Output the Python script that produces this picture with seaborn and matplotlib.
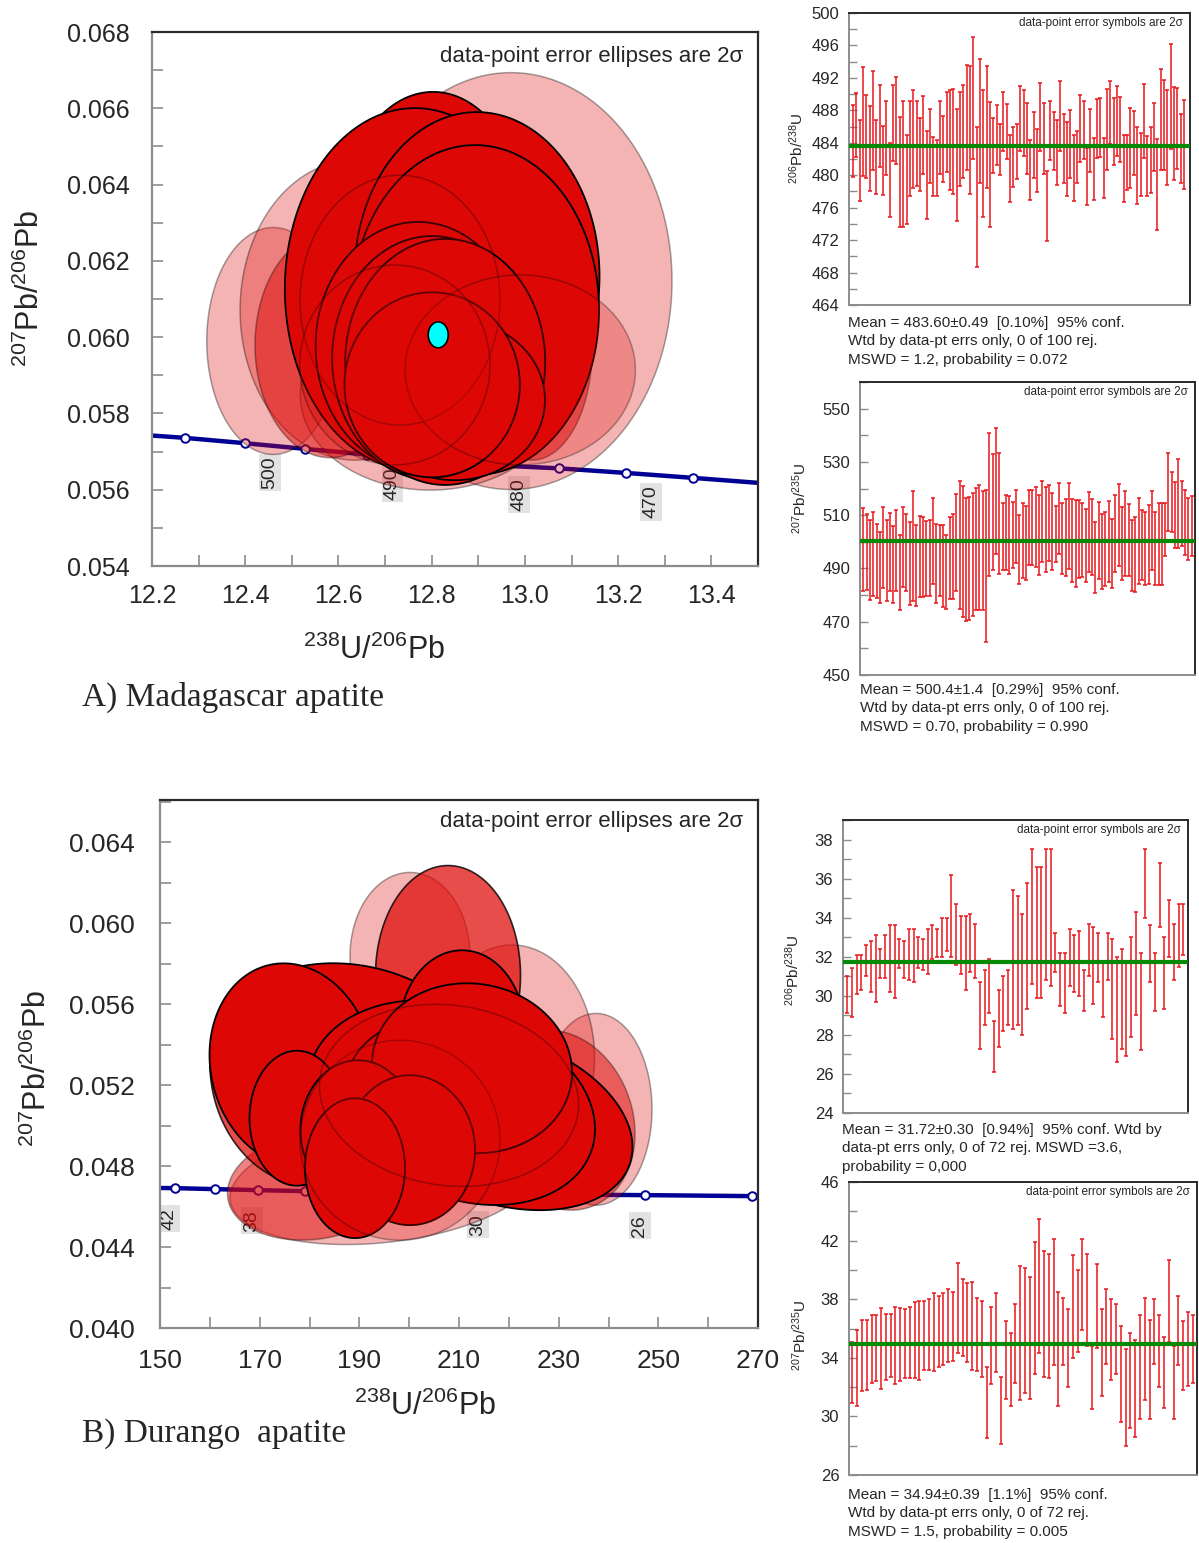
import numpy as np
import matplotlib
matplotlib.use("Agg")
import matplotlib.pyplot as plt
from matplotlib.ticker import MultipleLocator, FixedLocator, FormatStrFormatter
import seaborn as sns
import pandas as pd

# ---------------- DATA ----------------
# Panel A : Madagascar apatite, Tera-Wasserburg ellipses (centre x, centre y, full width, full height, rho, kind)
A_cx = [12.970, 12.460, 12.636, 12.797, 12.582, 13.015,
        12.803, 12.764, 12.897, 12.893, 12.771, 12.801, 12.829, 12.850, 12.801,
        12.732, 12.990, 12.721]
A_cy = [0.06147, 0.05990, 0.06071, 0.05848, 0.05979, 0.05966,
        0.06268, 0.06126, 0.06160, 0.06071, 0.05977, 0.05945, 0.05935, 0.05835, 0.05875,
        0.06097, 0.05914, 0.05927]
A_w = [0.691, 0.285, 0.494, 0.558, 0.322, 0.258,
       0.408, 0.558, 0.526, 0.532, 0.440, 0.429, 0.429, 0.386, 0.376,
       0.429, 0.494, 0.408]
A_h = [0.01093, 0.00595, 0.00787, 0.00498, 0.00590, 0.00577,
       0.00750, 0.00949, 0.00860, 0.00865, 0.00650, 0.00640, 0.00645, 0.00420, 0.00485,
       0.00655, 0.00498, 0.00524]
A_rho = [0.0] * 18
A_kind = ["pale", "pale", "pale", "pale", "mid", "mid",
          "solid", "solid", "solid", "solid", "solid", "solid", "solid", "solid", "solid",
          "overlay", "overlay", "overlay"]
A_mean_pt = (12.814, 0.06006, 0.043, 0.00068)

A_conc_age = [505, 500, 495, 490, 485, 480, 475, 470, 465]
A_conc_x = [12.270, 12.399, 12.529, 12.662, 12.797, 12.934, 13.074, 13.217, 13.361]
A_conc_y = [0.05736, 0.05722, 0.05707, 0.05692, 0.05677, 0.05664, 0.05656, 0.05644, 0.05631]
A_line_x = [12.2] + A_conc_x + [13.5]
A_line_y = [0.05742] + A_conc_y + [0.05618]
A_label_ages = [500, 490, 480, 470]
A_xticks = [12.2, 12.4, 12.6, 12.8, 13.0, 13.2, 13.4]
A_yticks = [0.054, 0.056, 0.058, 0.060, 0.062, 0.064, 0.066, 0.068]

# Panel B : Durango apatite
B_cx = [200.17, 237.49, 220.64, 195.15, 181.10, 230.27,
        207.79, 178.09,
        189.13, 176.49, 210.60, 206.19, 218.23, 212.21, 212.61, 177.49, 189.73, 200.17, 189.13,
        198.16, 208.00]
B_cy = [0.05837, 0.05081, 0.05338, 0.04721, 0.04706, 0.05027,
        0.05743, 0.05249,
        0.05240, 0.05299, 0.05472, 0.05126, 0.05027, 0.05077, 0.05284, 0.05037, 0.04978, 0.04879, 0.04790,
        0.04928, 0.05150]
B_w = [24.08, 22.48, 33.11, 62.21, 35.12, 30.10,
       29.10, 36.12,
       58.19, 33.11, 25.08, 53.18, 53.18, 50.17, 40.13, 19.06, 23.08, 26.09, 20.07,
       40.13, 52.00]
B_h = [0.00830, 0.00948, 0.01111, 0.00617, 0.00543, 0.00889,
       0.01086, 0.01086,
       0.01126, 0.01007, 0.00790, 0.00988, 0.00889, 0.00938, 0.00840, 0.00667, 0.00691, 0.00741, 0.00691,
       0.00988, 0.00900]
B_rho = [0.0, 0.0, 0.0, 0.25, 0.15, -0.15,
         0.0, -0.1,
         -0.15, -0.1, 0.0, -0.15, -0.3, -0.2, -0.05, 0.0, 0.0, 0.0, 0.0,
         0.0, -0.1]
B_kind = ["pale", "pale", "pale", "pale", "mid", "mid",
          "deep", "deep",
          "solid", "solid", "solid", "solid", "solid", "solid", "solid", "solid", "solid", "solid", "solid",
          "overlay", "overlay"]

B_conc_age = [42, 40, 38, 36, 34, 32, 30, 28, 26, 24]
B_conc_x = [153.0, 161.1, 169.6, 179.1, 189.6, 201.5, 214.9, 230.3, 247.4, 268.7]
B_conc_y = [0.046914, 0.046864, 0.046815, 0.046765, 0.046716, 0.046667, 0.046617, 0.046593, 0.046568, 0.046519]
B_line_x = [150.0] + B_conc_x + [270.0]
B_line_y = [0.04692] + B_conc_y + [0.04652]
B_label_ages = [42, 38, 34, 30, 26]
B_xticks = [150, 170, 190, 210, 230, 250, 270]
B_yticks = [0.040, 0.044, 0.048, 0.052, 0.056, 0.060, 0.064]

# Weighted-mean panels: upper / lower ends of 2-sigma error bars
A1_hi = [488.7, 490.1, 486.8, 493.3, 489.9, 488.5, 492.8, 486.8, 491.1, 486.1,
         489.2, 484.0, 491.1, 492.1, 487.2, 489.2, 485.0, 489.2, 490.5, 489.2,
         487.0, 489.8, 485.4, 488.2, 484.7, 484.3, 489.1, 487.3, 490.2, 490.5,
         490.6, 488.2, 490.2, 491.1, 493.6, 493.5, 497.1, 486.0, 494.3, 490.5,
         493.5, 489.0, 487.1, 488.7, 486.3, 490.2, 488.8, 485.0, 485.9, 486.3,
         491.0, 490.5, 488.9, 484.3, 487.8, 485.7, 491.4, 488.9, 480.5, 489.2,
         487.8, 486.8, 491.6, 487.6, 486.6, 488.0, 485.0, 485.4, 489.9, 489.2,
         483.4, 488.2, 484.6, 489.4, 489.5, 484.6, 490.6, 491.6, 489.5, 491.0,
         489.7, 485.0, 485.0, 488.3, 487.9, 486.0, 485.2, 491.2, 484.8, 486.0,
         488.9, 484.5, 493.1, 491.8, 490.5, 496.2, 490.9, 490.7, 487.5, 489.3]
A1_lo = [479.8, 482.2, 476.8, 479.9, 479.7, 478.0, 480.7, 477.7, 481.0, 477.6,
         480.0, 474.8, 481.8, 481.4, 473.6, 473.6, 474.0, 477.4, 478.4, 478.7,
         478.0, 480.2, 474.6, 479.0, 477.4, 477.4, 480.1, 479.2, 480.4, 478.2,
         477.7, 474.4, 478.7, 479.6, 480.6, 477.7, 482.0, 468.7, 479.0, 474.8,
         478.4, 473.6, 480.3, 481.2, 480.0, 483.0, 482.0, 476.7, 478.5, 479.5,
         483.0, 482.4, 480.1, 477.0, 479.7, 477.9, 483.0, 480.2, 471.9, 481.9,
         480.6, 478.8, 483.0, 479.1, 477.4, 479.6, 476.8, 479.0, 481.6, 482.0,
         476.3, 480.4, 477.0, 482.1, 482.3, 477.2, 480.7, 483.8, 481.2, 482.4,
         481.6, 476.7, 478.2, 478.4, 480.0, 476.5, 477.4, 482.1, 477.5, 477.8,
         480.5, 473.2, 480.7, 480.6, 478.8, 483.2, 479.4, 480.8, 479.0, 478.3]
A1_mean = 483.60
A1_yticks = [464, 468, 472, 476, 480, 484, 488, 492, 496, 500]

A2_hi = [512.7, 510.4, 508.1, 511.2, 506.8, 503.6, 513.2, 508.2, 510.9, 505.9,
         511.9, 502.4, 513.2, 510.4, 507.3, 519.0, 506.3, 509.6, 509.2, 507.9,
         508.2, 516.5, 506.7, 506.5, 506.2, 502.7, 509.3, 510.6, 517.8, 522.8,
         521.1, 516.5, 516.9, 518.4, 520.3, 521.5, 519.0, 519.6, 540.7, 532.8,
         542.8, 533.4, 514.6, 517.4, 517.1, 515.1, 519.6, 510.2, 514.4, 513.6,
         519.6, 519.6, 520.6, 517.4, 522.8, 520.6, 521.5, 518.4, 513.4, 521.9,
         514.6, 516.1, 521.9, 516.2, 515.8, 515.8, 514.4, 512.4, 518.6, 516.1,
         507.3, 514.9, 510.5, 511.1, 515.2, 508.6, 517.4, 521.8, 513.1, 519.0,
         514.2, 508.3, 509.3, 516.5, 511.9, 511.1, 514.0, 519.0, 511.1, 514.4,
         514.4, 514.4, 533.2, 526.2, 522.4, 531.2, 522.8, 519.4, 516.5, 517.1]
A2_lo = [481.7, 482.0, 478.2, 479.7, 478.9, 477.2, 482.6, 477.8, 481.7, 477.2,
         481.4, 474.5, 483.2, 481.7, 476.3, 477.8, 476.0, 479.2, 479.2, 479.7,
         479.7, 484.3, 477.0, 479.7, 475.7, 474.7, 478.5, 478.5, 481.4, 474.7,
         471.6, 470.1, 470.7, 472.0, 474.5, 474.5, 474.5, 462.5, 487.3, 489.5,
         495.5, 488.0, 489.3, 489.3, 488.0, 490.2, 492.0, 484.3, 486.4, 485.8,
         491.4, 491.4, 490.5, 487.6, 492.3, 488.5, 492.7, 489.3, 492.3, 495.5,
         488.0, 487.3, 489.8, 484.8, 483.0, 486.6, 486.8, 484.8, 488.5, 487.6,
         480.7, 486.0, 482.2, 483.5, 484.9, 482.6, 488.5, 490.8, 485.5, 487.3,
         487.0, 481.4, 481.0, 484.3, 485.8, 483.9, 484.3, 489.3, 483.9, 483.9,
         483.9, 494.8, 504.0, 503.6, 497.7, 497.7, 498.3, 495.2, 493.3, 494.5]
A2_mean = 500.4
A2_yticks = [450, 470, 490, 510, 530, 550]

B1_hi = [31.0, 31.4, 32.1, 32.1, 32.6, 32.8, 33.1, 32.4, 33.1, 33.6,
         33.6, 32.9, 32.8, 33.4, 33.4, 33.0, 32.9, 33.4, 33.6, 33.4,
         34.0, 34.0, 36.2, 34.7, 34.1, 34.1, 34.2, 33.7, 30.7, 31.3,
         31.9, 28.7, 30.3, 31.0, 31.3, 35.4, 35.1, 34.2, 35.8, 37.5,
         36.6, 36.6, 37.5, 37.5, 33.2, 32.2, 32.2, 33.4, 33.1, 33.3,
         31.3, 33.7, 33.5, 33.2, 31.7, 33.2, 32.9, 32.0, 32.4, 31.8,
         33.0, 34.3, 32.2, 37.5, 33.6, 32.2, 36.8, 33.0, 34.9, 33.7,
         34.7, 34.7]
B1_lo = [29.1, 28.9, 30.1, 30.3, 31.0, 30.2, 29.7, 30.9, 30.9, 30.2,
         29.9, 31.4, 30.9, 30.8, 30.7, 31.4, 31.3, 31.1, 31.9, 32.0,
         32.0, 32.3, 32.0, 31.6, 31.1, 30.3, 31.2, 30.9, 27.3, 28.5,
         29.1, 26.1, 27.4, 28.2, 28.5, 28.3, 28.5, 28.0, 29.3, 30.6,
         29.9, 29.9, 30.8, 30.5, 31.2, 29.5, 29.1, 30.5, 30.2, 30.0,
         29.2, 31.0, 29.6, 30.7, 28.9, 30.8, 27.8, 26.6, 27.3, 26.9,
         27.9, 29.0, 27.2, 34.0, 30.7, 29.2, 33.5, 29.3, 32.0, 30.8,
         31.5, 32.1]
B1_mean = 31.72
B1_yticks = [24, 26, 28, 30, 32, 34, 36, 38]

B2_hi = [35.1, 35.9, 36.6, 36.6, 36.9, 36.9, 37.4, 37.0, 37.0, 37.5,
         37.4, 37.3, 37.5, 37.8, 37.9, 37.9, 38.0, 38.4, 38.2, 38.4,
         38.7, 38.5, 40.5, 39.4, 39.1, 39.2, 38.1, 37.9, 33.4, 37.5,
         38.4, 32.7, 36.5, 35.7, 37.7, 40.3, 40.1, 39.5, 41.9, 43.5,
         41.3, 41.1, 42.1, 38.5, 38.1, 37.3, 41.0, 40.0, 42.1, 41.1,
         34.8, 40.4, 37.3, 38.7, 38.0, 37.7, 36.2, 34.6, 35.7, 35.2,
         36.9, 38.1, 36.6, 38.0, 36.9, 35.4, 40.7, 34.8, 38.2, 36.5,
         37.1, 36.9]
B2_lo = [30.9, 30.7, 31.7, 31.8, 32.3, 32.4, 31.9, 32.5, 32.7, 32.2,
         32.4, 32.6, 32.6, 32.6, 32.5, 33.2, 33.2, 33.1, 33.4, 33.5,
         33.7, 33.8, 34.3, 34.1, 33.7, 33.2, 33.1, 32.7, 28.5, 32.2,
         33.0, 28.1, 31.2, 30.7, 32.3, 31.1, 31.6, 31.2, 32.9, 34.3,
         32.7, 32.6, 33.5, 30.7, 33.5, 32.0, 34.0, 34.4, 35.9, 34.8,
         30.5, 34.7, 31.4, 33.6, 32.5, 32.9, 29.6, 28.0, 29.2, 28.6,
         29.8, 31.1, 29.8, 33.6, 32.0, 30.6, 35.1, 29.8, 33.5, 31.8,
         32.1, 32.3]
B2_mean = 34.94
B2_yticks = [26, 30, 34, 38, 42, 46]

# ---------------- STYLE ----------------
sns.set_theme(style="ticks")
plt.rcParams["font.family"] = ["Liberation Sans", "DejaVu Sans"]
plt.rcParams["mathtext.fontset"] = "custom"
plt.rcParams["mathtext.rm"] = "Liberation Sans"
plt.rcParams["mathtext.default"] = "regular"

W, H = 1199, 1543
fig = plt.figure(figsize=(W / 100, H / 100), dpi=100)
fig.patch.set_facecolor("white")

RED = "#DD0806"
NAVY = "#000094"
ERR = "#E8161C"
GRAY = "#8C8C8C"


def add_ax(l, t, r, b):
    return fig.add_axes([l / W, 1 - b / H, (r - l) / W, (b - t) / H])


def ftext(px, py, s, **kw):
    fig.text(px / W, 1 - py / H, s, **kw)


def style_spines(ax, lw=1.4):
    for side in ("left", "bottom"):
        ax.spines[side].set_color(GRAY)
        ax.spines[side].set_linewidth(lw)
    for side in ("top", "right"):
        ax.spines[side].set_color("#2a2a2a")
        ax.spines[side].set_linewidth(lw)
        ax.spines[side].set_visible(True)


def ellipse(ax, cx, cy, w, h, rho, kind):
    t = np.linspace(0, 2 * np.pi, 200)
    x = cx + w / 2 * np.cos(t)
    y = cy + h / 2 * (rho * np.cos(t) + np.sqrt(1 - rho ** 2) * np.sin(t))
    r, g, b = matplotlib.colors.to_rgb(RED)
    if kind == "pale":
        ax.fill(x, y, facecolor=(r, g, b, 0.30), edgecolor=(0, 0, 0, 0.35), lw=1.1, zorder=3)
    elif kind == "mid":
        ax.fill(x, y, facecolor=(r, g, b, 0.50), edgecolor=(0, 0, 0, 0.35), lw=1.1, zorder=3)
    elif kind == "deep":
        ax.fill(x, y, facecolor=(r, g, b, 0.72), edgecolor=(0, 0, 0, 0.8), lw=1.2, zorder=4)
    elif kind == "solid":
        ax.fill(x, y, facecolor=RED, edgecolor="black", lw=1.3, zorder=5)
    else:
        ax.fill(x, y, facecolor=(r, g, b, 0.25), edgecolor=(0, 0, 0, 0.30), lw=1.1, zorder=6)


def concordia(ax, lx, ly, mx, my, ages, label_ages, offset):
    sns.lineplot(x=lx, y=ly, ax=ax, color=NAVY, lw=3.2, sort=False, zorder=1)
    sns.scatterplot(x=mx, y=my, ax=ax, s=38, color="white", edgecolor=NAVY, linewidth=1.4, zorder=2)
    for a, x, y in zip(ages, mx, my):
        if a in label_ages:
            ax.annotate(str(a), (x, y), xytext=offset, textcoords="offset points",
                        rotation=90, ha="center", va="center", fontsize=14, zorder=2,
                        bbox=dict(boxstyle="square,pad=0.12", fc="#E2E2E2", ec="none"))


def main_axes_style(ax, xticks, yticks, xminor, yminor, xfmt, labelsize, ypad, xpad):
    ax.xaxis.set_major_locator(FixedLocator(xticks))
    ax.yaxis.set_major_locator(FixedLocator(yticks))
    ax.xaxis.set_minor_locator(MultipleLocator(xminor))
    ax.yaxis.set_minor_locator(MultipleLocator(yminor))
    ax.xaxis.set_major_formatter(FormatStrFormatter(xfmt))
    ax.yaxis.set_major_formatter(FormatStrFormatter("%.3f"))
    ax.tick_params(which="both", direction="in", length=8, width=1.2, color=GRAY, labelsize=labelsize)
    ax.tick_params(axis="y", pad=ypad)
    ax.tick_params(axis="x", pad=xpad)
    ax.set_xlabel("")
    ax.set_ylabel("")
    style_spines(ax, 1.6)


# ---------------- PANEL A main ----------------
axA = add_ax(152, 32, 758, 566)
concordia(axA, A_line_x, A_line_y, A_conc_x, A_conc_y, A_conc_age, A_label_ages, (18, -21))
for cx, cy, w, h, rho, k in zip(A_cx, A_cy, A_w, A_h, A_rho, A_kind):
    ellipse(axA, cx, cy, w, h, rho, k)
t = np.linspace(0, 2 * np.pi, 100)
axA.fill(A_mean_pt[0] + A_mean_pt[2] / 2 * np.cos(t), A_mean_pt[1] + A_mean_pt[3] / 2 * np.sin(t),
         facecolor="#00FFFF", edgecolor="black", lw=1.2, zorder=8)
axA.set_xlim(12.2, 13.5)
axA.set_ylim(0.054, 0.068)
main_axes_style(axA, A_xticks, A_yticks, 0.1, 0.001, "%.1f", 18, 16, 13)
axA.text(0.975, 0.955, "data-point error ellipses are 2σ", transform=axA.transAxes,
         ha="right", va="center", fontsize=16, zorder=10)
ftext(30, 288, r"$^{207}$Pb/$^{206}$Pb", rotation=90, ha="center", va="center", fontsize=22)
ftext(374, 650, r"$^{238}$U/$^{206}$Pb", ha="center", va="center", fontsize=22)
ftext(82, 697, "A) Madagascar apatite", ha="left", va="center", fontsize=24,
      family=["Liberation Serif", "DejaVu Serif"])

# ---------------- PANEL B main ----------------
axB = add_ax(160, 800, 758, 1328)
concordia(axB, B_line_x, B_line_y, B_conc_x, B_conc_y, B_conc_age, B_label_ages, (-4, -22))
for cx, cy, w, h, rho, k in zip(B_cx, B_cy, B_w, B_h, B_rho, B_kind):
    ellipse(axB, cx, cy, w, h, rho, k)
axB.set_xlim(150, 270)
axB.set_ylim(0.040, 0.0661)
main_axes_style(axB, B_xticks, B_yticks, 10, 0.002, "%d", 19, 18, 15)
axB.text(0.975, 0.96, "data-point error ellipses are 2σ", transform=axB.transAxes,
         ha="right", va="center", fontsize=16, zorder=10)
ftext(37, 1068, r"$^{207}$Pb/$^{206}$Pb", rotation=90, ha="center", va="center", fontsize=22)
ftext(425, 1406, r"$^{238}$U/$^{206}$Pb", ha="center", va="center", fontsize=22)
ftext(82, 1434, "B) Durango  apatite", ha="left", va="center", fontsize=24,
      family=["Liberation Serif", "DejaVu Serif"])


# ---------------- weighted-mean panels ----------------
def wm_panel(box, hi, lo, mean, ylim, yticks, minor, ylabel, ylab_pos, lines, text_pos, xlim_pad):
    ax = add_ax(*box)
    hi = np.array(hi)
    lo = np.array(lo)
    idx = np.arange(1, len(hi) + 1)
    mid = (hi + lo) / 2
    half = (hi - lo) / 2
    ax.errorbar(idx, mid, yerr=half, fmt="none", ecolor=ERR, elinewidth=1.1,
                capsize=1.6, capthick=1.1, zorder=2)
    ax.axhline(mean, color="#068A06", lw=3.0, zorder=3)
    ax.set_xlim(1 - xlim_pad[0], len(hi) + xlim_pad[1])
    ax.set_ylim(*ylim)
    ax.yaxis.set_major_locator(FixedLocator(yticks))
    ax.yaxis.set_minor_locator(MultipleLocator(minor))
    ax.yaxis.set_major_formatter(FormatStrFormatter("%d"))
    ax.set_xticks([])
    ax.tick_params(axis="y", which="both", direction="in", length=6, width=1.0, color=GRAY,
                   labelsize=12, pad=7)
    style_spines(ax, 1.4)
    ax.text(0.98, 0.965, "data-point error symbols are 2σ", transform=ax.transAxes,
            ha="right", va="center", fontsize=8.5)
    ftext(ylab_pos[0], ylab_pos[1], ylabel, rotation=90, ha="center", va="center", fontsize=11)
    ftext(text_pos[0], text_pos[1], "\n".join(lines), ha="left", va="top", fontsize=11,
          linespacing=1.4)
    return ax


wm_panel((849, 13, 1190, 305), A1_hi, A1_lo, A1_mean, (464, 500), A1_yticks, 2,
         r"$^{206}$Pb/$^{238}$U", (797, 148),
         ["Mean = 483.60±0.49  [0.10%]  95% conf.",
          "Wtd by data-pt errs only, 0 of 100 rej.",
          "MSWD = 1.2, probability = 0.072"], (848, 316), (1.2, 1.8))

wm_panel((860, 382, 1195, 675), A2_hi, A2_lo, A2_mean, (450, 560), A2_yticks, 10,
         r"$^{207}$Pb/$^{235}$U", (800, 498),
         ["Mean = 500.4±1.4  [0.29%]  95% conf.",
          "Wtd by data-pt errs only, 0 of 100 rej.",
          "MSWD = 0.70, probability = 0.990"], (860, 683), (1.0, 1.0))

wm_panel((843, 820, 1188, 1113), B1_hi, B1_lo, B1_mean, (24, 39), B1_yticks, 1,
         r"$^{206}$Pb/$^{238}$U", (793, 970),
         ["Mean = 31.72±0.30  [0.94%]  95% conf. Wtd by",
          "data-pt errs only, 0 of 72 rej. MSWD =3.6,",
          "probability = 0,000"], (842, 1123), (0.9, 1.0))

wm_panel((849, 1182, 1197, 1475), B2_hi, B2_lo, B2_mean, (26, 46), B2_yticks, 2,
         r"$^{207}$Pb/$^{235}$U", (800, 1335),
         ["Mean = 34.94±0.39  [1.1%]  95% conf.",
          "Wtd by data-pt errs only, 0 of 72 rej.",
          "MSWD = 1.5, probability = 0.005"], (848, 1488), (0.7, 0.9))

fig.savefig("out.png", dpi=100, facecolor="white")
